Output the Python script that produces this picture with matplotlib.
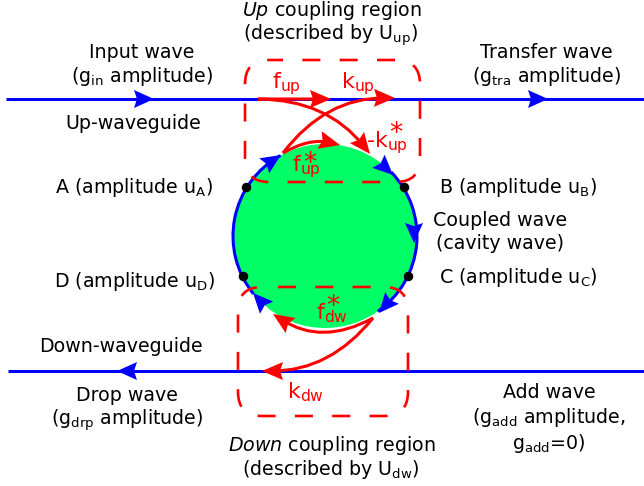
import numpy as np
import matplotlib
matplotlib.use('Agg')
import matplotlib.pyplot as plt
from matplotlib.patches import Circle, Arc, FancyBboxPatch, PathPatch, Polygon
from matplotlib.path import Path

plt.rcParams['font.family'] = 'DejaVu Sans'
plt.rcParams['mathtext.fontset'] = 'dejavusans'
plt.rcParams['mathtext.default'] = 'regular'

BLUE = '#0000ff'
RED = '#ff0000'
GREEN = '#00ff66'

# black labels: text, x, y (pixels)
black_text = ['$\\mathit{Up}$ coupling region', '(described by U$_{up}$)',
              'Input wave', '(g$_{in}$ amplitude)', 'Up-waveguide',
              'Transfer wave', '(g$_{tra}$ amplitude)',
              'A (amplitude u$_{A}$)', 'B (amplitude u$_{B}$)',
              'Coupled wave', '(cavity wave)',
              'D (amplitude u$_{D}$)', 'C (amplitude u$_{C}$)',
              'Down-waveguide', 'Drop wave', '(g$_{drp}$ amplitude)',
              'Add wave', '(g$_{add}$ amplitude,', 'g$_{add}$=0)',
              '$\\mathit{Down}$ coupling region', '(described by U$_{dw}$)']
black_x = [332, 331, 142, 142, 133, 546, 546, 134, 518, 500, 500, 134, 518,
           121, 127, 127, 549, 549, 549, 332, 331]
black_y = [11, 35, 52, 76, 123, 52, 76, 187, 187, 220, 243, 281, 277,
           346, 395, 420, 392, 417, 443, 445, 469]

# red coefficients, the stars are drawn on their own because they are large
red_text = ['f$_{up}$', 'k$_{up}$', '-k$_{up}$', 'f$_{up}$', 'f$_{dw}$', 'k$_{dw}$']
red_x = [286, 358, 387, 306, 332, 306]
red_y = [84, 84, 143, 167, 313, 392]
star_x = [396, 310, 333]
star_y = [134, 164, 307]

# waveguides and ring
wg_y = [99, 371]
wg_x0 = [6, 8]
ring_center = (325, 236)
ring_radius = 92
node_x = [246, 404, 408, 243]
node_y = [187, 187, 276, 276]

# blue arrow heads: point behind the tip, tip
blue_from = [(135, 99), (529, 99), (137, 371),
             (264, 166), (375, 158), (414, 222), (392, 298), (266, 307)]
blue_to = [(154, 99), (548, 99), (117, 371),
           (281, 155), (393, 175), (414, 243), (379, 313), (253, 293)]

# red couplers: start, end, curvature
red_from = [(258, 99), (283, 153), (258, 99), (283, 153), (373, 318), (373, 318)]
red_to = [(331, 99), (395, 98), (370, 154), (340, 145), (273, 314), (262, 371)]
red_rad = [0.0, -0.25, -0.24, -0.2, -0.3, -0.24]

# coupling regions: x, y, w, h, dash offset
box_x = [245, 238]
box_y = [60, 287]
box_w = [175, 170]
box_h = [122, 129]
box_off = [1.5, 8.07]


def head(ax, p0, p1, color, length=20, half=9, notch=3):
    p0 = np.array(p0, float)
    p1 = np.array(p1, float)
    u = (p1 - p0) / np.hypot(*(p1 - p0))
    n = np.array([-u[1], u[0]])
    back = p1 - u*length
    pts = [p1, back + n*half, p1 - u*(length - notch), back - n*half]
    ax.add_patch(Polygon(pts, closed=True, fc=color, ec='none', zorder=6))


fig = plt.figure(figsize=(6.44, 4.86), dpi=100)
ax = fig.add_axes([0, 0, 1, 1])
ax.set_xlim(0, 644)
ax.set_ylim(486, 0)
ax.axis('off')

ax.add_patch(Circle(ring_center, ring_radius, fc=GREEN, ec='none', zorder=1))
for t1, t2 in [(141, 241), (-44, 55)]:
    ax.add_patch(Arc(ring_center, 2*ring_radius, 2*ring_radius, theta1=t1, theta2=t2,
                     color=BLUE, lw=2.2, zorder=2))

for y, x0 in zip(wg_y, wg_x0):
    ax.plot([x0, 644], [y, y], color=BLUE, lw=2.2, solid_capstyle='butt', zorder=2)

for p0, p1 in zip(blue_from, blue_to):
    head(ax, p0, p1, BLUE)

for x, y, w, h, off in zip(box_x, box_y, box_w, box_h, box_off):
    ax.add_patch(FancyBboxPatch((x, y), w, h, boxstyle='round,pad=0,rounding_size=24', fc='none',
                                ec=RED, lw=1.9, linestyle=(off, (6.84, 7.3)),
                                mutation_aspect=1, zorder=4))

for p0, p1, rad in zip(red_from, red_to, red_rad):
    a = np.array(p0, float)
    b = np.array(p1, float)
    d = b - a
    c = (a + b)/2 + rad*np.array([-d[1], d[0]])
    u = (b - c) / np.hypot(*(b - c))
    ax.add_patch(PathPatch(Path([a, c, b - u*10], [Path.MOVETO, Path.CURVE3, Path.CURVE3]),
                           fc='none', ec=RED, lw=2.2, zorder=5))
    head(ax, b - u*19, b, RED, length=21, half=9)

ax.scatter(node_x, node_y, s=34, color='black', zorder=7)

for s, x, y in zip(black_text, black_x, black_y):
    ax.text(x, y, s, fontsize=13.7, color='black', ha='center', va='center', zorder=8)
for s, x, y in zip(red_text, red_x, red_y):
    ax.text(x, y, s, fontsize=16, color=RED, ha='center', va='center', zorder=8)
for x, y in zip(star_x, star_y):
    ax.text(x, y, '*', fontsize=19, color=RED, ha='center', va='center', zorder=8)

fig.savefig('out.png', dpi=100)
